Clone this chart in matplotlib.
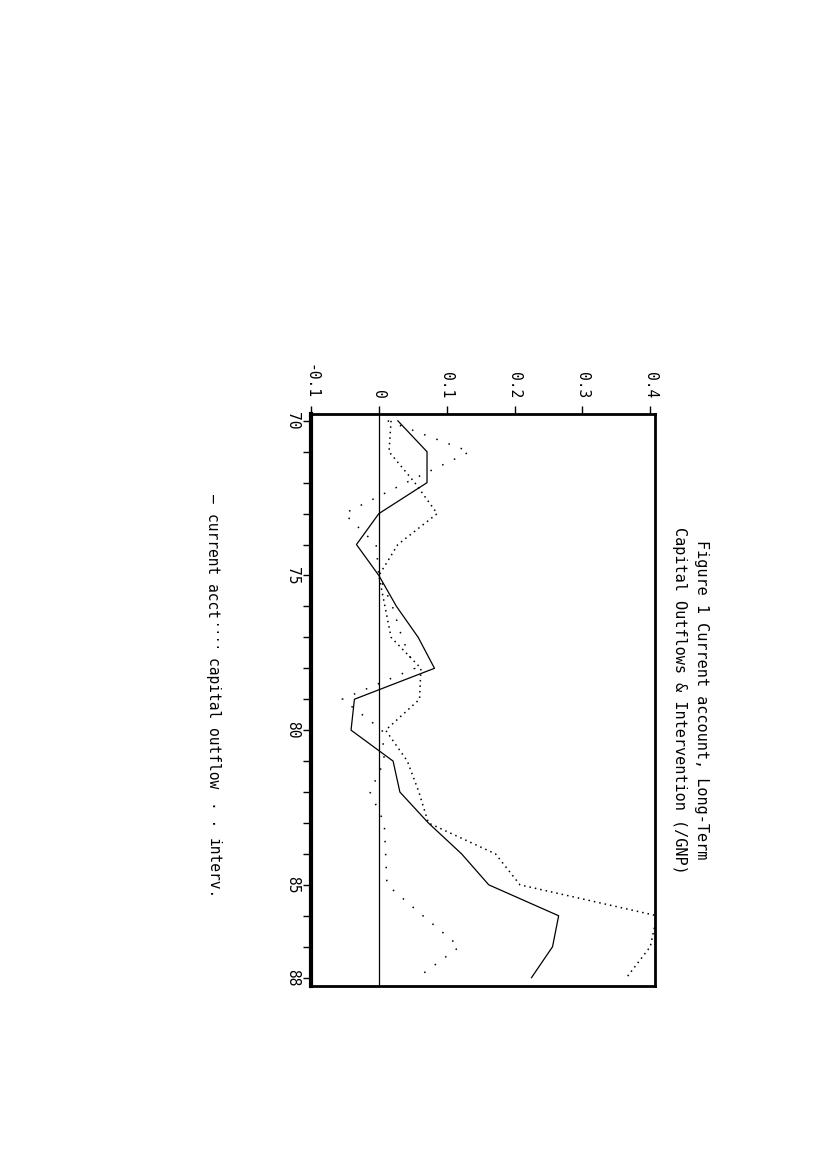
import matplotlib.pyplot as plt

plt.rcParams['font.family'] = ['DejaVu Sans Mono', 'DejaVu Sans']

# podatki (odcitani iz slike), leta 1970-1988
leta = list(range(70, 89))
current_acct = [0.028, 0.071, 0.071, 0.0, -0.033, 0.0, 0.026, 0.058, 0.082, -0.036,
                -0.041, 0.021, 0.031, 0.073, 0.122, 0.162, 0.265, 0.256, 0.225]
capital_outflow = [0.018, 0.015, 0.053, 0.086, 0.028, 0.0, 0.009, 0.018, 0.062, 0.060,
                   0.010, 0.042, 0.059, 0.073, 0.172, 0.208, 0.41, 0.40, 0.365]
interv = [0.013, 0.134, 0.040, -0.051, -0.004, 0.0, 0.020, 0.034, 0.053, -0.054,
          0.005, 0.008, -0.013, 0.008, 0.010, 0.012, 0.065, 0.119, 0.057]

vrednosti_ticks = [-0.1, 0, 0.1, 0.2, 0.3, 0.4]
vrednosti_labels = ['-0.1', '0', '0.1', '0.2', '0.3', '0.4']
leta_ticks = [70, 75, 80, 85, 88]
leta_labels = ['70', '75', '80', '85', '88']

naslov = ['Figure 1 Current account, Long-Term',
          'Capital Outflows & Intervention (/GNP)']

W, H = 827, 1170
fig = plt.figure(figsize=(W / 100, H / 100), dpi=100)

# graf je zasukan za 90 stopinj (leta navpicno, vrednosti vodoravno)
ax = fig.add_axes([311 / W, 1 - 986 / H, (655 - 311) / W, (986 - 414) / H])
ax.plot(current_acct, leta, color='black', lw=0.9)
ax.plot(capital_outflow, leta, color='black', lw=1.1, linestyle=(0, (1.0, 2.6)))
ax.plot(interv, leta, color='black', lw=1.1, linestyle=(0, (1.0, 7.5)))
ax.axvline(0, color='black', lw=0.9)

ax.set_xlim(-0.1, 0.407)
ax.set_ylim(88.27, 69.78)

ax.xaxis.tick_top()
ax.set_xticks(vrednosti_ticks)
ax.set_xticklabels(vrednosti_labels)
ax.set_yticks(leta_ticks)
ax.set_yticklabels(leta_labels)
ax.set_yticks(leta, minor=True)
ax.tick_params(axis='x', direction='out', length=6, width=1, pad=5,
               labelsize=10.5, labelrotation=-90)
ax.tick_params(axis='y', which='both', direction='out', length=6, width=1, pad=2,
               labelsize=10.5, labelrotation=-90)
for lbl in ax.get_yticklabels():
    lbl.set_va('center')

ax.spines['left'].set_linewidth(3)
for s in ['right', 'top', 'bottom']:
    ax.spines[s].set_linewidth(2)

# naslov (zasukan)
fig.text(702 / W, 1 - 700 / H, naslov[0], rotation=-90, ha='center', va='center', fontsize=11)
fig.text(679 / W, 1 - 700 / H, naslov[1], rotation=-90, ha='center', va='center', fontsize=11)

# legenda kot besedilo (tekst, zacetek y, velikost)
legenda = [('\u2014', 494, 10.5), ('current acct', 513, 10.5),
           ('\u00b7\u00b7\u00b7\u00b7', 623, 9), ('capital outflow', 657, 10.5),
           ('\u00b7 \u00b7', 801, 10.5), ('interv.', 838, 10.5)]
for tekst, y, velikost in legenda:
    fig.text(213 / W, 1 - y / H, tekst, rotation=-90, ha='center', va='top', fontsize=velikost)

plt.savefig('out.png', dpi=100)
